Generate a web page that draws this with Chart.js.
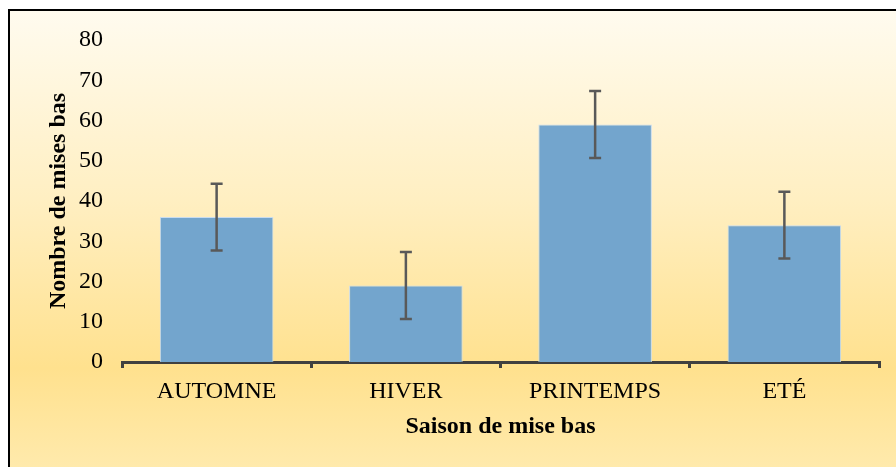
<!DOCTYPE html>
<html>
<head>
<meta charset="utf-8">
<script src="https://cdn.jsdelivr.net/npm/chart.js@4.4.0/dist/chart.umd.min.js"></script>
<style>
    html, body { margin: 0; padding: 0; background: #ffffff; }
    #frame {
        position: absolute; left: 8px; top: 9px; width: 900px; height: 470px;
        border-top: 2px solid #000; border-left: 2px solid #000;
        background: linear-gradient(#fffbef 0%, #ffefc2 40%, #ffe18e 76%, #ffebb0 100%);
    }
    #myBarChart { position: absolute; left: 0; top: 0; }
</style>
</head>
<body>
<div id="frame"></div>
<canvas id="myBarChart" width="896" height="467"></canvas>
<script>
// data
const seasons = ["AUTOMNE", "HIVER", "PRINTEMPS", "ETÉ"];
const births = [36, 19, 59, 34];
const errors = [8.3, 8.3, 8.3, 8.3];
const yTicks = [0, 10, 20, 30, 40, 50, 60, 70, 80];

const serif = "'Liberation Serif', 'Times New Roman', serif";

const errorBars = {
    id: "errorBars",
    afterDatasetsDraw: function (chart) {
        const ctx = chart.ctx;
        const y = chart.scales.y;
        const meta = chart.getDatasetMeta(0);
        ctx.save();
        ctx.strokeStyle = "#595959";
        ctx.lineWidth = 2.5;
        meta.data.forEach(function (bar, i) {
            const top = y.getPixelForValue(births[i] + errors[i]);
            const bottom = y.getPixelForValue(births[i] - errors[i]);
            ctx.beginPath();
            ctx.moveTo(bar.x, top);
            ctx.lineTo(bar.x, bottom);
            ctx.moveTo(bar.x - 6, top);
            ctx.lineTo(bar.x + 6, top);
            ctx.moveTo(bar.x - 6, bottom);
            ctx.lineTo(bar.x + 6, bottom);
            ctx.stroke();
        });
        ctx.restore();
    },
};

var ctx = document.getElementById("myBarChart").getContext("2d");
var myBarChart = new Chart(ctx, {
    type: "bar",
    data: {
        labels: seasons,
        datasets: [
            {
                data: births,
                backgroundColor: "#73a5cd",
                borderColor: "#c9dcee",
                borderWidth: 1,
                barPercentage: 0.6,
                categoryPercentage: 1,
            },
        ],
    },
    options: {
        responsive: false,
        animation: false,
        layout: { padding: { top: 40, right: 17, left: 0, bottom: 0 } },
        plugins: {
            legend: { display: false },
            tooltip: { enabled: false },
        },
        scales: {
            x: {
                offset: true,
                afterFit: function (scale) {
                    scale.height = 105;
                },
                grid: {
                    display: true,
                    offset: true,
                    drawOnChartArea: false,
                    drawTicks: true,
                    tickLength: 6,
                    color: "#404040",
                    lineWidth: 3,
                },
                border: { display: true, color: "#404040", width: 3 },
                ticks: {
                    color: "#000",
                    padding: 9,
                    font: { family: serif, size: 24 },
                },
                title: {
                    display: true,
                    text: "Saison de mise bas",
                    color: "#000",
                    padding: { top: 0, bottom: 26 },
                    font: { family: serif, size: 24, weight: "bold" },
                },
            },
            y: {
                min: 0,
                max: 80,
                afterFit: function (scale) {
                    scale.width = 122;
                },
                afterBuildTicks: function (scale) {
                    scale.ticks = yTicks.map(function (v) {
                        return { value: v };
                    });
                },
                grid: { display: false, drawTicks: false },
                border: { display: false },
                ticks: {
                    color: "#000",
                    padding: 19,
                    font: { family: serif, size: 24 },
                },
                title: {
                    display: true,
                    text: "Nombre de mises bas",
                    color: "#000",
                    padding: { top: 44, bottom: 0 },
                    font: { family: serif, size: 24, weight: "bold" },
                },
            },
        },
    },
    plugins: [errorBars],
});
</script>
</body>
</html>
